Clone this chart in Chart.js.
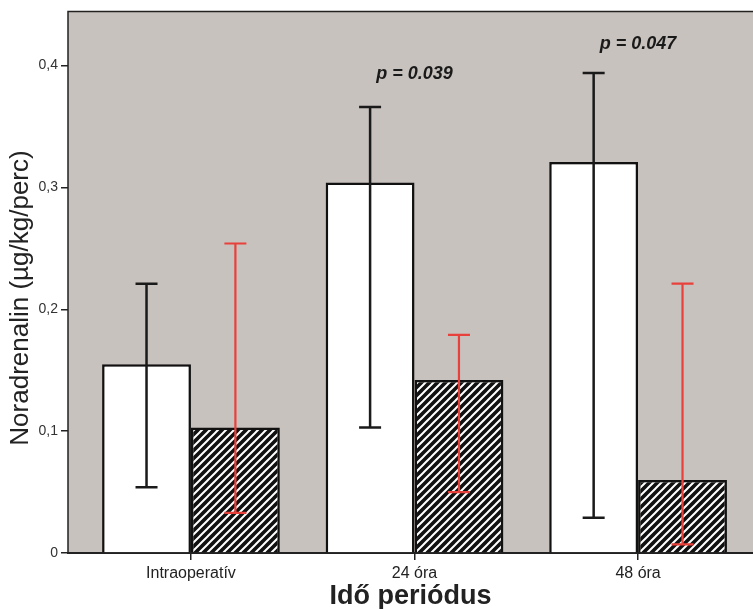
<html>

<head>
    <meta charset="UTF-8">
    <meta name="viewport" content="width=device-width, initial-scale=1.0">
    <script src="https://cdn.jsdelivr.net/npm/chart.js"></script>
</head>
<style>
  body { margin: 0; background: #fff; }
  #wrap { width: 753px; height: 609px; }
</style>

<body>
  <div id="wrap">
    <canvas id="myChart"></canvas>
  </div>
</body>
<script>
  const categories = ['Intraoperatív', '24 óra', '48 óra'];

  // white bars + black error bars
  const whiteValues = [0.155, 0.304, 0.321];
  const whiteLow = [0.054, 0.103, 0.029];
  const whiteHigh = [0.221, 0.366, 0.394];

  // hatched bars + red error bars
  const hatchValues = [0.103, 0.142, 0.060];
  const hatchLow = [0.033, 0.050, 0.007];
  const hatchHigh = [0.254, 0.179, 0.221];

  const yTicks = [0, 0.1, 0.2, 0.3, 0.4];

  const pLabels = ['', 'p = 0.039', 'p = 0.047'];
  const pLabelY = [0, 0.393, 0.418];

  const FONT = '"Liberation Sans", Arial, sans-serif';
  const ctx = document.getElementById('myChart');

  // diagonal white stripes on black
  function makeHatch() {
    const n = 8;
    const c = document.createElement('canvas');
    c.width = n; c.height = n;
    const g = c.getContext('2d');
    g.fillStyle = '#111';
    g.fillRect(0, 0, n, n);
    g.strokeStyle = '#fff';
    g.lineWidth = 2;
    g.beginPath();
    g.moveTo(-1, n + 1); g.lineTo(n + 1, -1);
    g.moveTo(-1, 1); g.lineTo(1, -1);
    g.moveTo(n - 1, n + 1); g.lineTo(n + 1, n - 1);
    g.stroke();
    return g.createPattern(c, 'repeat');
  }

  const plotBg = {
    id: 'plotBg',
    beforeDraw(chart) {
      const { ctx, chartArea: a } = chart;
      ctx.save();
      ctx.fillStyle = '#c8c2be';
      ctx.fillRect(a.left, a.top, a.right - a.left, a.bottom - a.top);
      ctx.strokeStyle = '#222';
      ctx.lineWidth = 1.5;
      ctx.beginPath();
      ctx.moveTo(a.left, a.bottom);
      ctx.lineTo(a.left, a.top);
      ctx.lineTo(a.right, a.top);
      ctx.stroke();
      // y axis title
      ctx.translate(21, 298);
      ctx.rotate(-Math.PI / 2);
      ctx.fillStyle = '#222';
      ctx.font = '26px ' + FONT;
      ctx.textAlign = 'center';
      ctx.textBaseline = 'middle';
      ctx.fillText('Noradrenalin (µg/kg/perc)', 0, 0);
      ctx.restore();
    }
  };

  const errorBars = {
    id: 'errorBars',
    afterDatasetsDraw(chart) {
      const { ctx } = chart;
      const y = chart.scales.y;
      const sets = [[whiteLow, whiteHigh, '#1a1a1a', 2.5], [hatchLow, hatchHigh, '#e8403a', 2.2]];
      ctx.save();
      sets.forEach((s, di) => {
        const meta = chart.getDatasetMeta(di);
        meta.data.forEach((bar, i) => {
          const x = bar.x;
          const lo = y.getPixelForValue(s[0][i]);
          const hi = y.getPixelForValue(s[1][i]);
          ctx.strokeStyle = s[2];
          ctx.lineWidth = s[3];
          ctx.beginPath();
          ctx.moveTo(x, lo); ctx.lineTo(x, hi);
          ctx.moveTo(x - 11, lo); ctx.lineTo(x + 11, lo);
          ctx.moveTo(x - 11, hi); ctx.lineTo(x + 11, hi);
          ctx.stroke();
        });
      });
      // p values
      ctx.fillStyle = '#1a1a1a';
      ctx.font = 'italic bold 18px ' + FONT;
      ctx.textAlign = 'center';
      ctx.textBaseline = 'middle';
      pLabels.forEach((t, i) => {
        if (!t) return;
        ctx.fillText(t, chart.scales.x.getPixelForValue(i), y.getPixelForValue(pLabelY[i]));
      });
      ctx.restore();
    }
  };

  const data = {
    datasets: [
      {
        label: 'white',
        data: whiteValues.map((v, i) => ({ x: i, y: v })),
        backgroundColor: '#ffffff',
        borderColor: '#111',
        borderWidth: 2.5,
      },
      {
        label: 'hatched',
        data: hatchValues.map((v, i) => ({ x: i, y: v })),
        backgroundColor: makeHatch(),
        borderColor: '#111',
        borderWidth: 2.5,
      }
    ]
  };

  const config = {
    type: 'bar',
    data: data,
    plugins: [plotBg, errorBars],
    options: {
      responsive: true,
      maintainAspectRatio: false,
      animation: false,
      categoryPercentage: 0.795,
      barPercentage: 1,
      layout: { padding: { top: 10, right: 0, left: 0, bottom: 0 } },
      scales: {
        x: {
          type: 'linear',
          offset: false,
          min: -0.55,
          max: 2.514,
          afterBuildTicks: (s) => { s.ticks = categories.map((c, i) => ({ value: i })); },
          afterFit: (s) => { s.height = 56; },
          ticks: {
            callback: (v) => categories[v],
            color: '#222',
            font: { family: FONT, size: 16 },
            padding: 4,
            maxRotation: 0,
          },
          grid: { offset: false, drawOnChartArea: false, tickLength: 7, color: '#222', lineWidth: 1.5 },
          border: { display: true, color: '#222', width: 2 },
          title: {
            display: true,
            text: 'Idő periódus',
            color: '#222',
            font: { family: FONT, size: 27, weight: 'bold' },
            padding: { top: 0, bottom: -4 },
          }
        },
        y: {
          min: 0,
          max: 0.4445,
          afterBuildTicks: (s) => { s.ticks = yTicks.map(v => ({ value: v })); },
          afterFit: (s) => { s.width = 68; },
          ticks: {
            callback: (v) => v === 0 ? '0' : v.toFixed(1).replace('.', ','),
            color: '#333',
            font: { family: FONT, size: 14 },
            padding: 3,
          },
          grid: { drawOnChartArea: false, tickLength: 7, color: '#222', lineWidth: 1.5 },
          border: { display: false },
        }
      },
      plugins: {
        legend: { display: false },
        tooltip: { enabled: false },
        title: { display: false }
      }
    },
  };

  new Chart(ctx, config);
</script>
</html>
